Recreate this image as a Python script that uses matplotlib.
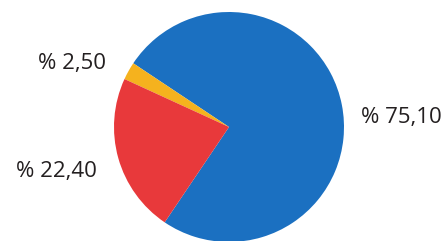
import matplotlib
matplotlib.use('Agg')
import matplotlib.pyplot as plt

# slice data
shares = [75.10, 2.50, 22.40]
labels = ['% 75,10', '% 2,50', '% 22,40']
colors = ['#1b70c1', '#f5b21e', '#e8393b']

# label anchors in pixel space (x, y from bottom)
label_pos = [(401, 123), (72, 177), (56, 69)]

fig = plt.figure(figsize=(4.47, 2.41), dpi=100)
ax = fig.add_axes([0, 0, 1, 1])

ax.pie(shares, colors=colors, startangle=236, counterclock=True,
       center=(229, 114), radius=115,
       wedgeprops={'linewidth': 0})

for txt, (x, y) in zip(labels, label_pos):
    ax.text(x, y, txt, ha='center', va='center', fontsize=16,
            family='Open Sans', fontweight='medium', color='#231f20')

ax.set_xlim(0, 447)
ax.set_ylim(0, 241)
ax.set_aspect('equal')
ax.axis('off')

fig.savefig('out.png', dpi=100)
